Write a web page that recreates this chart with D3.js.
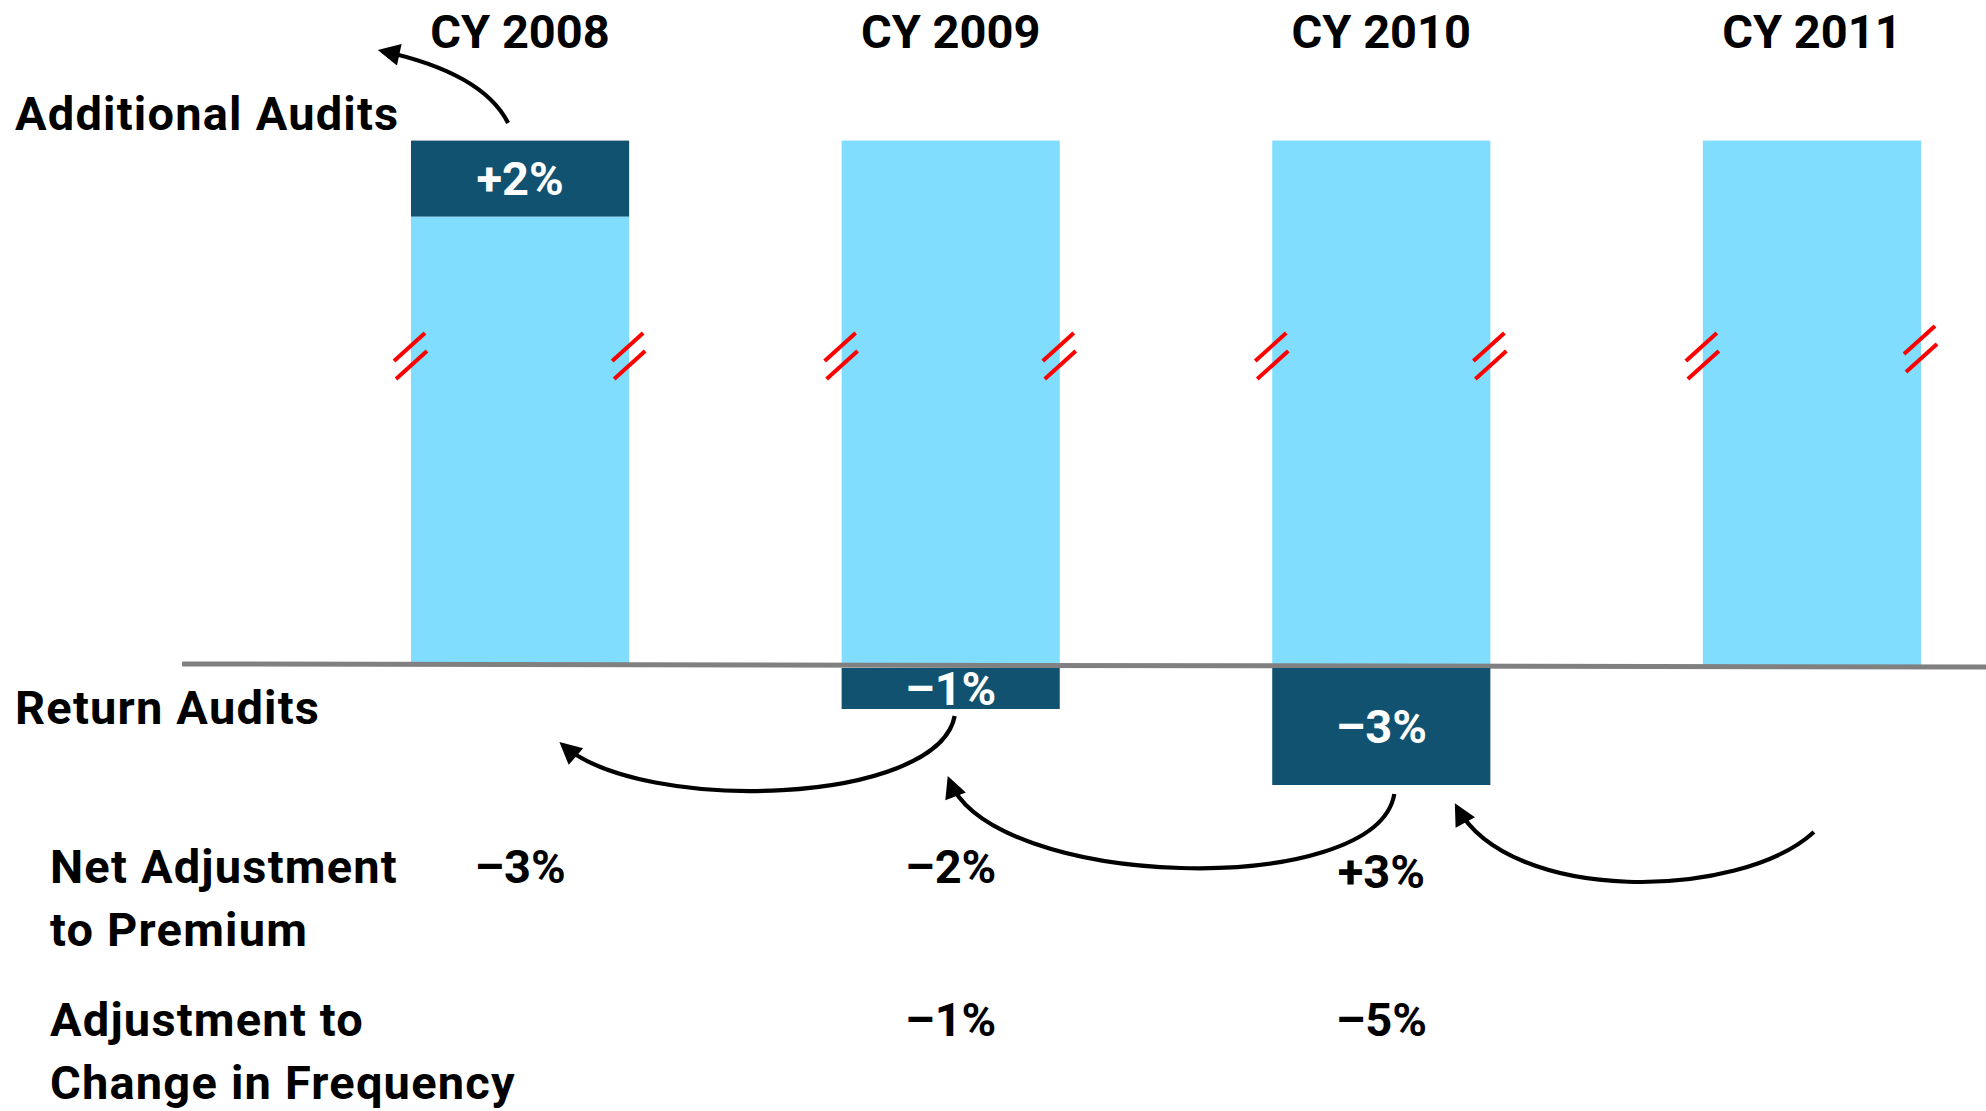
<!DOCTYPE html>
<html>
<head>
<meta charset="utf-8">
<script src="https://cdn.jsdelivr.net/npm/d3@7"></script>
<style>
  html, body { margin: 0; padding: 0; background: #ffffff; }
  svg { display: block; }
  text { font-family: Roboto, "Liberation Sans", sans-serif; font-weight: 700; }
  .side { letter-spacing: 1.2px; }
</style>
</head>
<body>
<svg id="chart" width="1986" height="1111"></svg>
<script>
// ---- data ----
const categories = ["CY 2008", "CY 2009", "CY 2010", "CY 2011"];
// base (broken) bar height, in % units as drawn
const baseValues = [11.8, 13.8, 13.8, 13.8];
// additional audits (stacked on top)
const additionalAudits = [2, 0, 0, 0];
// return audits (below zero line)
const returnAudits = [0, -1, -3, 0];
const additionalLabels = ["+2%", "", "", ""];
const returnLabels = ["", "\u20131%", "\u20133%", ""];
const netAdjustment = ["\u20133%", "\u20132%", "+3%", ""];
const freqAdjustment = ["", "\u20131%", "\u20135%", ""];
const rowLabels = [["Net Adjustment", "to Premium"], ["Adjustment to", "Change in Frequency"]];
const sideLabels = ["Additional Audits", "Return Audits"];

// ---- styles ----
const lightBlue = "#80ddfe";
const darkBlue = "#10526f";
const fontSize = 47;
const capHalf = 16.5;

const svg = d3.select("#chart");

const x = d3.scaleBand().domain(categories).range([411, 1921]).paddingInner(0.4934).paddingOuter(0);
const y = d3.scaleLinear().domain([0, 1]).range([665, 627]);
const bw = x.bandwidth();
const cx = c => x(c) + bw / 2;

// light base bars
svg.append("g").selectAll("rect").data(categories).join("rect")
  .attr("x", d => x(d))
  .attr("width", bw)
  .attr("y", (d, i) => y(baseValues[i]))
  .attr("height", (d, i) => y(0) - y(baseValues[i]))
  .attr("fill", lightBlue);

// additional audits (dark, on top)
const addG = svg.append("g");
categories.forEach((c, i) => {
  if (!additionalAudits[i]) return;
  const y0 = y(baseValues[i] + additionalAudits[i]);
  const y1 = y(baseValues[i]);
  addG.append("rect").attr("x", x(c)).attr("width", bw).attr("y", y0).attr("height", y1 - y0).attr("fill", darkBlue);
  addG.append("text").attr("x", cx(c)).attr("y", (y0 + y1) / 2 + capHalf)
    .attr("text-anchor", "middle").attr("fill", "#fff").attr("font-size", fontSize).text(additionalLabels[i]);
});

// zero line
svg.append("line").attr("x1", 182).attr("x2", 1986).attr("y1", y(0) - 1).attr("y2", y(0) + 2)
  .attr("stroke", "#808080").attr("stroke-width", 5);

// return audits (dark, below line)
const retG = svg.append("g");
categories.forEach((c, i) => {
  if (!returnAudits[i]) return;
  const y0 = y(0) + 3;
  const y1 = y(returnAudits[i]) + 6;
  retG.append("rect").attr("x", x(c)).attr("width", bw).attr("y", y0).attr("height", y1 - y0).attr("fill", darkBlue);
  retG.append("text").attr("x", cx(c)).attr("y", (y0 + y1) / 2 + capHalf)
    .attr("text-anchor", "middle").attr("fill", "#fff").attr("font-size", fontSize).text(returnLabels[i]);
});

// axis break marks
const breakG = svg.append("g").attr("stroke", "#ff0000").attr("stroke-width", 4);
categories.forEach((c, i) => {
  [x(c), x(c) + bw].forEach((ex, k) => {
    const cy = 356 - (i === 3 && k === 1 ? 7 : 0);
    breakG.append("line").attr("x1", ex - 17).attr("y1", cy + 5).attr("x2", ex + 14).attr("y2", cy - 23);
    breakG.append("line").attr("x1", ex - 15).attr("y1", cy + 23).attr("x2", ex + 16).attr("y2", cy - 5);
  });
});

// category labels (top axis)
svg.append("g").selectAll("text").data(categories).join("text")
  .attr("x", d => cx(d)).attr("y", 48)
  .attr("text-anchor", "middle").attr("font-size", fontSize).attr("fill", "#000").text(d => d);

// side labels
svg.append("text").attr("class", "side").attr("x", 15).attr("y", 130).attr("font-size", fontSize).text(sideLabels[0]);
svg.append("text").attr("class", "side").attr("x", 15).attr("y", 724).attr("font-size", fontSize).text(sideLabels[1]);

// row labels
const rowBase = [883, 1036];
rowLabels.forEach((lines, r) => {
  lines.forEach((t, j) => {
    svg.append("text").attr("class", "side").attr("x", 50).attr("y", rowBase[r] + j * 63).attr("font-size", fontSize).text(t);
  });
});

// row values
svg.append("g").selectAll("text").data(netAdjustment).join("text")
  .attr("x", (d, i) => cx(categories[i])).attr("y", (d, i) => 883 + (i === 2 ? 5 : 0))
  .attr("text-anchor", "middle").attr("font-size", fontSize).text(d => d);
svg.append("g").selectAll("text").data(freqAdjustment).join("text")
  .attr("x", (d, i) => cx(categories[i])).attr("y", 1036)
  .attr("text-anchor", "middle").attr("font-size", fontSize).text(d => d);

// arrows
const defs = svg.append("defs");
defs.append("marker").attr("id", "ah").attr("viewBox", "0 0 10 10")
  .attr("refX", 8).attr("refY", 5).attr("markerUnits", "userSpaceOnUse")
  .attr("markerWidth", 27).attr("markerHeight", 22).attr("orient", "auto")
  .append("path").attr("d", "M0,0 L10,5 L0,10 Z").attr("fill", "#000");

const c0 = cx(categories[0]), c1 = cx(categories[1]), c2 = cx(categories[2]), c3 = cx(categories[3]);
const arrows = [
  // additional audits 2008 -> prior year
  `M${c0 - 12},123 C${c0 - 26},95 ${c0 - 60},68 ${c0 - 138},51`,
  // 2009 return -> 2008
  `M${c1 + 4},716 C${c1 - 13},805 ${c1 - 308},815 ${c1 - 388},745`,
  // 2010 return -> 2009
  `M${c2 + 13},794 C${c2 - 5},900 ${c2 - 390},890 ${c2 - 432},780`,
  // 2011 -> 2010
  `M${c3 + 2},832 C${c3 - 72},900 ${c3 - 302},905 ${c3 - 355},807`
];
svg.append("g").selectAll("path").data(arrows).join("path")
  .attr("d", d => d).attr("fill", "none").attr("stroke", "#000").attr("stroke-width", 4.2)
  .attr("marker-end", "url(#ah)");
</script>
</body>
</html>
